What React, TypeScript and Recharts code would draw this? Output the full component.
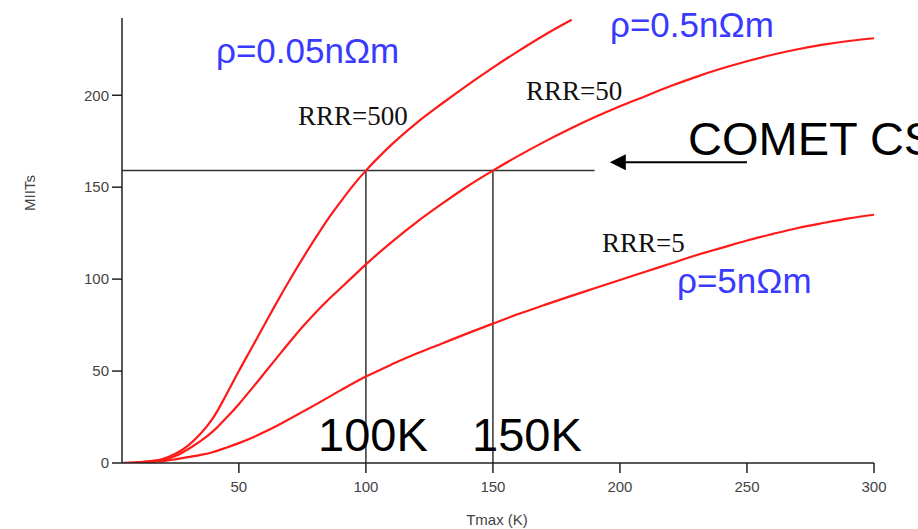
import React from 'react';
import { LineChart, Line, XAxis, YAxis, ReferenceLine } from 'recharts';

// Tmax (K) sample points for each curve
const tRRR500 = [4, 10, 15, 20, 25, 30, 35, 40, 45, 50, 55, 60, 65, 70, 75, 80, 85, 90, 95, 100, 110, 120, 130, 140, 150, 160, 170, 181];
const miitsRRR500 = [0, 0.3, 1, 2.2, 5, 9.5, 16, 24.8, 37, 50, 62.5, 75, 87.5, 99.5, 111, 122, 132.5, 142, 151, 159, 173, 185, 195.5, 205.5, 215, 224, 232.5, 241];

const tRRR50 = [4, 10, 15, 20, 25, 30, 35, 40, 45, 50, 55, 60, 65, 70, 75, 80, 85, 90, 95, 100, 110, 120, 130, 140, 150, 160, 170, 180, 190, 200, 210, 220, 230, 240, 250, 260, 270, 280, 290, 300];
const miitsRRR50 = [0, 0.2, 0.8, 1.6, 3.8, 7.5, 12, 17.5, 24.5, 32, 40.3, 48.8, 57.3, 65.8, 74, 81.5, 88.5, 95, 101.5, 108, 120, 131, 141, 150.5, 159, 167, 174.5, 181.5, 188, 194, 199.5, 205, 210, 214.5, 218.5, 222, 225, 227.5, 229.5, 231];

const tRRR5 = [4, 10, 15, 20, 25, 30, 35, 40, 45, 50, 55, 60, 65, 70, 75, 80, 90, 100, 110, 120, 130, 140, 150, 160, 170, 180, 190, 200, 210, 220, 230, 240, 250, 260, 270, 280, 290, 300];
const miitsRRR5 = [0, 0.1, 0.5, 1, 2, 3.2, 4.4, 6, 8.3, 10.8, 13.6, 16.8, 20.3, 24, 27.8, 31.6, 39.5, 47, 53.5, 59.5, 65, 70.5, 75.8, 81, 85.8, 90.5, 95, 99.5, 104, 108.5, 113, 117, 121, 124.5, 127.8, 130.5, 133, 135];

const xTicks = [50, 100, 150, 200, 250, 300];
const yTicks = [0, 50, 100, 150, 200];

// COMET CS operating point
const cometMiits = 159;
const cometLineEnd = 190;
const markTemps = [100, 150];
const arrowFrom = 250;
const arrowTo = 196;
const arrowMiits = 163.5;

const toRows = (ts: number[], ms: number[]) => ts.map((t, i) => ({ t, m: ms[i] }));

const sans = '"Liberation Sans", Arial, sans-serif';
const narrow = '"Liberation Sans Narrow", "Liberation Sans", Arial, sans-serif';
const serif = '"Liberation Serif", "Times New Roman", serif';
const blue = '#3a3aff';
const red = '#ff1a1a';

const Arrow = (props: any) => {
  const { x1, y1, x2, y2 } = props;
  return (
    <g>
      <line x1={x1} y1={y1} x2={x2 + 12} y2={y2} stroke="#000" strokeWidth={2} />
      <polygon points={`${x2},${y2} ${x2 + 16},${y2 - 8} ${x2 + 16},${y2 + 8}`} fill="#000" />
    </g>
  );
};

export default function App() {
  return (
    <div style={{ position: 'absolute', left: 0, top: 0, width: 918, height: 529, background: '#fff' }}>
      <LineChart width={918} height={529} margin={{ top: 18, right: 44, left: 62, bottom: 26 }}>
        <XAxis
          type="number"
          dataKey="t"
          domain={[4, 300]}
          ticks={xTicks}
          allowDataOverflow
          height={40}
          tickSize={10}
          tickMargin={8}
          stroke="#222"
          strokeWidth={1.5}
          tick={{ fill: '#444', fontSize: 15, fontFamily: narrow }}
        />
        <YAxis
          type="number"
          domain={[0, 242]}
          ticks={yTicks}
          allowDataOverflow
          width={60}
          tickSize={10}
          tickMargin={3}
          stroke="#222"
          strokeWidth={1.5}
          tick={{ fill: '#444', fontSize: 15, fontFamily: narrow }}
        />
        <ReferenceLine segment={[{ x: 4, y: cometMiits }, { x: cometLineEnd, y: cometMiits }]} stroke="#333" strokeWidth={1.5} />
        {markTemps.map((t) => (
          <ReferenceLine key={t} segment={[{ x: t, y: 0 }, { x: t, y: cometMiits }]} stroke="#333" strokeWidth={1.5} />
        ))}
        <ReferenceLine segment={[{ x: arrowFrom, y: arrowMiits }, { x: arrowTo, y: arrowMiits }]} shape={Arrow} />
        <Line data={toRows(tRRR5, miitsRRR5)} dataKey="m" type="monotone" stroke={red} strokeWidth={2.2} dot={false} isAnimationActive={false} />
        <Line data={toRows(tRRR50, miitsRRR50)} dataKey="m" type="monotone" stroke={red} strokeWidth={2.2} dot={false} isAnimationActive={false} />
        <Line data={toRows(tRRR500, miitsRRR500)} dataKey="m" type="monotone" stroke={red} strokeWidth={2.2} dot={false} isAnimationActive={false} />
      </LineChart>
      <svg width={918} height={529} style={{ position: 'absolute', left: 0, top: 0, pointerEvents: 'none' }}>
        <text x={216} y={63} fontSize={35} fill={blue} fontFamily={sans}>ρ=0.05nΩm</text>
        <text x={610} y={37} fontSize={35} fill={blue} fontFamily={sans}>ρ=0.5nΩm</text>
        <text x={677} y={293} fontSize={35} fill={blue} fontFamily={sans}>ρ=5nΩm</text>
        <text x={298} y={125} fontSize={27} fill="#111" fontFamily={serif}>RRR=500</text>
        <text x={526} y={100} fontSize={27} fill="#111" fontFamily={serif}>RRR=50</text>
        <text x={602} y={252} fontSize={27} fill="#111" fontFamily={serif}>RRR=5</text>
        <text x={688} y={155} fontSize={47} fill="#000" fontFamily={sans}>COMET CS</text>
        <text x={318} y={451} fontSize={47} fill="#000" fontFamily={sans}>100K</text>
        <text x={472} y={451} fontSize={47} fill="#000" fontFamily={sans}>150K</text>
        <text x={497} y={525} fontSize={15} fill="#444" fontFamily={narrow} textAnchor="middle">Tmax (K)</text>
        <text x={35} y={193} fontSize={15} fill="#444" fontFamily={narrow} textAnchor="middle" transform="rotate(-90 35 193)">MIITs</text>
      </svg>
    </div>
  );
}
